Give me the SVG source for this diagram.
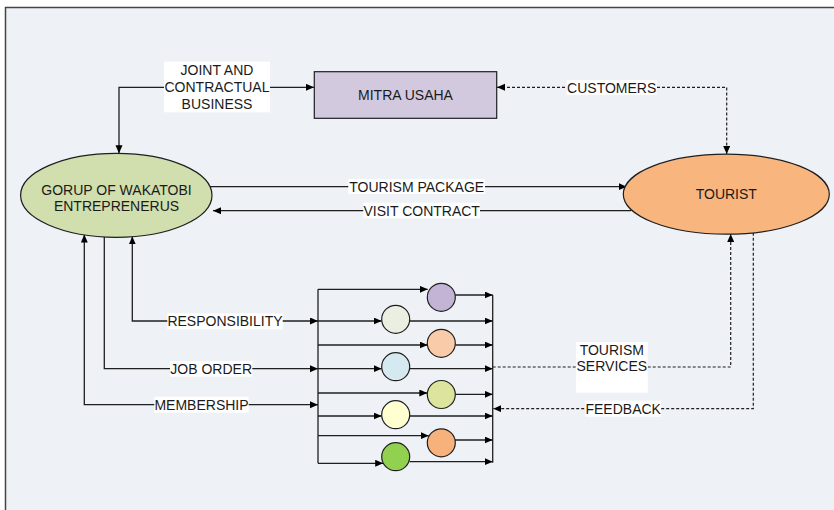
<svg xmlns="http://www.w3.org/2000/svg" width="834" height="510" viewBox="0 0 834 510">
<style>
.t{font-family:"Liberation Sans",Arial,sans-serif;font-size:14px;fill:#1a1a1a;text-anchor:middle;dominant-baseline:central}
.ln{fill:none;stroke:#1f1f1f;stroke-width:1.3}
.dl{fill:none;stroke:#1f1f1f;stroke-width:1.2;stroke-dasharray:3 2}
.lb{fill:#ffffff}
.nd{stroke:#1f1f1f;stroke-width:1.2}
</style>
<defs>
<marker id="ah" markerUnits="userSpaceOnUse" markerWidth="9" markerHeight="8" refX="8" refY="3.5" orient="auto-start-reverse" viewBox="0 0 9 8">
<path d="M0,0 L8,3.5 L0,7 z" fill="#000"/>
</marker>
</defs>
<rect x="5.5" y="7.5" width="840" height="520" fill="#EEF1F6" stroke="#444" stroke-width="1.5"/>

<g id="connectors">
<path class="ln" d="M119,153.3 V87.3 H314" marker-start="url(#ah)" marker-end="url(#ah)"/>
<path class="dl" d="M497,87.3 H726.7 V154" marker-start="url(#ah)" marker-end="url(#ah)"/>
<path class="ln" d="M210,186.7 H626.7" marker-end="url(#ah)"/>
<path class="ln" d="M631,210.7 H213" marker-end="url(#ah)"/>
<path class="ln" d="M132.3,236.4 V321 H318" marker-start="url(#ah)" marker-end="url(#ah)"/>
<path class="ln" d="M104.3,237 V368.7 H318" marker-end="url(#ah)"/>
<path class="ln" d="M84.3,234.6 V404.7 H318" marker-start="url(#ah)" marker-end="url(#ah)"/>
<path class="ln" d="M318,289.3 V463.3"/>
<path class="ln" d="M492.7,295 V462.7"/>
<path class="ln" d="M318,289.3 H427.7" marker-end="url(#ah)"/>
<path class="ln" d="M455,295 H492.7" marker-end="url(#ah)"/>
<path class="ln" d="M318,321 H381.7" marker-end="url(#ah)"/>
<path class="ln" d="M409.7,321 H492.7" marker-end="url(#ah)"/>
<path class="ln" d="M318,345 H427.7" marker-end="url(#ah)"/>
<path class="ln" d="M455.3,345 H492.7" marker-end="url(#ah)"/>
<path class="ln" d="M318,368.7 H381.7" marker-end="url(#ah)"/>
<path class="ln" d="M409.7,368.7 H492.7" marker-end="url(#ah)"/>
<path class="ln" d="M318,393 H427.3" marker-end="url(#ah)"/>
<path class="ln" d="M455.3,394.3 H492.7" marker-end="url(#ah)"/>
<path class="ln" d="M318,416 H381.7" marker-end="url(#ah)"/>
<path class="ln" d="M409.7,416 H492.7" marker-end="url(#ah)"/>
<path class="ln" d="M318,435.7 H428.8" marker-end="url(#ah)"/>
<path class="ln" d="M455,440 H492.7" marker-end="url(#ah)"/>
<path class="ln" d="M318,463.3 H383.2" marker-end="url(#ah)"/>
<path class="ln" d="M409.5,461.7 H492.7" marker-end="url(#ah)"/>
<path class="dl" d="M492.7,367 H730.7 V234" marker-end="url(#ah)"/>
<path class="dl" d="M753.3,232.8 V408.7 H493.3" marker-end="url(#ah)"/>

<rect class="lb" x="164" y="61.7" width="106" height="50.6"/>
<text class="t" x="217" y="70">JOINT AND</text>
<text class="t" x="217" y="87.3">CONTRACTUAL</text>
<text class="t" x="217" y="104.3">BUSINESS</text>
<rect class="lb" x="566.7" y="80" width="90" height="15"/>
<text class="t" x="611.7" y="87.5">CUSTOMERS</text>
<rect class="lb" x="348.3" y="179" width="136.7" height="15"/>
<text class="t" x="416.7" y="186.5">TOURISM PACKAGE</text>
<rect class="lb" x="363.3" y="202.7" width="116.7" height="15.6"/>
<text class="t" x="421.7" y="210.5">VISIT CONTRACT</text>
<rect class="lb" x="167.3" y="313.3" width="115.4" height="16"/>
<text class="t" x="225" y="321">RESPONSIBILITY</text>
<rect class="lb" x="170" y="361" width="82.3" height="15.7"/>
<text class="t" x="211.2" y="368.7">JOB ORDER</text>
<rect class="lb" x="154.3" y="396.7" width="94.4" height="16"/>
<text class="t" x="201.5" y="404.7">MEMBERSHIP</text>
<rect class="lb" x="576" y="342" width="71.7" height="50.7"/>
<text class="t" x="611.8" y="350">TOURISM</text>
<text class="t" x="611.8" y="366">SERVICES</text>
<rect class="lb" x="585.3" y="400.7" width="75.7" height="16"/>
<text class="t" x="623.2" y="408.7">FEEDBACK</text>
</g>

<g id="mitra">
<rect class="nd" x="314.3" y="71.7" width="182.4" height="46.6" fill="#D3C9DF"/>
<text class="t" x="405.5" y="95">MITRA USAHA</text>
</g>
<g id="gorup">
<ellipse class="nd" cx="116.3" cy="195.3" rx="95.7" ry="42" fill="#D1DEAD"/>
<text class="t" x="116.5" y="190">GORUP OF WAKATOBI</text>
<text class="t" x="116.5" y="206">ENTREPRENERUS</text>
</g>
<g id="tourist">
<ellipse class="nd" cx="726.3" cy="194.2" rx="103" ry="40" fill="#F8B57E"/>
<text class="t" x="726.3" y="194">TOURIST</text>
</g>
<g id="c1"><circle class="nd" cx="441.3" cy="297.3" r="14" fill="#C3B4D6"/></g>
<g id="c2"><circle class="nd" cx="395.7" cy="319.3" r="14" fill="#EBEFE1"/></g>
<g id="c3"><circle class="nd" cx="441.3" cy="343.3" r="14" fill="#F9CBA9"/></g>
<g id="c4"><circle class="nd" cx="395.7" cy="366.7" r="14" fill="#D4EAF0"/></g>
<g id="c5"><circle class="nd" cx="441.3" cy="394.5" r="14" fill="#DDE49B"/></g>
<g id="c6"><circle class="nd" cx="395.7" cy="414.7" r="14" fill="#FFFFD0"/></g>
<g id="c7"><circle class="nd" cx="441.3" cy="442.8" r="14" fill="#F7B27B"/></g>
<g id="c8"><circle class="nd" cx="395.7" cy="456.7" r="14" fill="#92D050"/></g>
</svg>
